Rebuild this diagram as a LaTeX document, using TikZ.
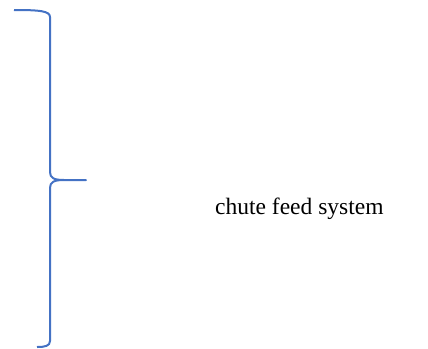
\documentclass[tikz,border=0pt]{standalone}
\usepackage{fontspec}
\setmainfont{Liberation Serif}
\begin{document}
\begin{tikzpicture}[x=1pt,y=-1pt,
  bracestyle/.style={draw={rgb,255:red,68;green,114;blue,196}, line width=2pt, line join=round},
  labelstyle/.style={font=\fontsize{23.5}{28}\selectfont, anchor=base west, inner sep=0pt}]
\useasboundingbox (0,0) rectangle (428,348);
\coordinate (top) at (14,10);
\coordinate (tip) at (86,180);
\coordinate (bot) at (37,347);
\draw[bracestyle] (top) .. controls (40,10) and (50,11) .. (50,17)
  -- (50,172) .. controls (50,178) and (54,180) .. (64,180) -- (tip)
  -- (64,180) .. controls (54,180) and (50,182) .. (50,188)
  -- (50,341) .. controls (50,346) and (45,347) .. (bot);
\node[labelstyle] (lbl) at (215,214) {chute feed system};
\end{tikzpicture}
\end{document}
